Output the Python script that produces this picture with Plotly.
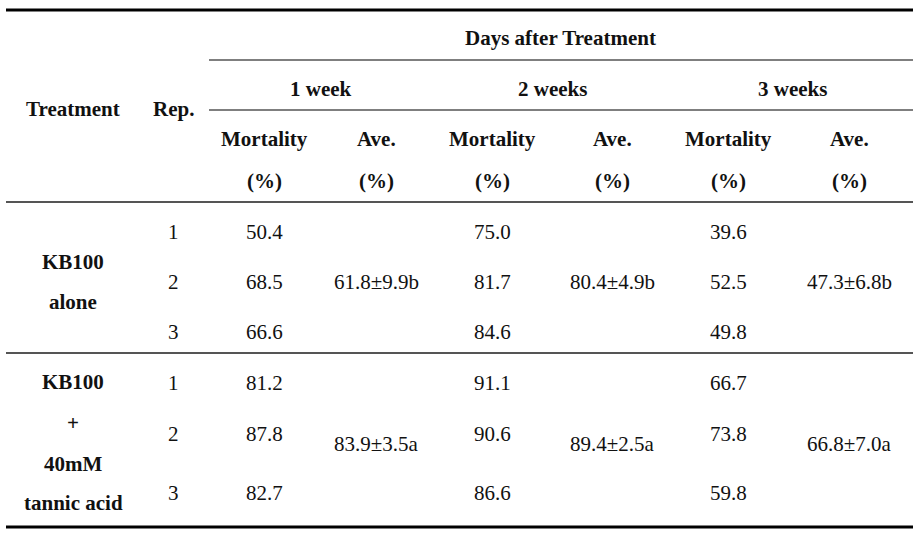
import plotly.graph_objects as go

# ---------------- data ----------------
weeks = ["1 week", "2 weeks", "3 weeks"]
treatments = ["KB100<br>alone", "KB100<br>+<br>40mM<br>tannic acid"]
reps = ["1", "2", "3"]
mort_kb100 = {"1 week": [50.4, 68.5, 66.6], "2 weeks": [75.0, 81.7, 84.6], "3 weeks": [39.6, 52.5, 49.8]}
mort_tannic = {"1 week": [81.2, 87.8, 82.7], "2 weeks": [91.1, 90.6, 86.6], "3 weeks": [66.7, 73.8, 59.8]}
ave_kb100 = ["61.8±9.9b", "80.4±4.9b", "47.3±6.8b"]
ave_tannic = ["83.9±3.5a", "89.4±2.5a", "66.8±7.0a"]

# ---------------- layout geometry (pixel coords) ----------------
W, H = 922, 535
X0, X1 = 6, 913
XSUB = 209
col_treat, col_rep = 73, 173
col_mort = [264, 492, 728]
col_ave = [376, 612, 849]
week_centers = [321, 552, 792]
row_ys = [[232, 282, 332], [383, 434, 493]]
ave_ys = [282, 444]
treat_lines = [[262, 302], [382, 423, 464, 503]]

FONT = "Liberation Serif, Times New Roman, serif"
TXT = "#111111"
SZ_H = 21
SZ_D = 21

fig = go.Figure()
fig.update_layout(width=W, height=H, margin=dict(l=0, r=0, t=0, b=0),
                  paper_bgcolor="white", plot_bgcolor="white", showlegend=False,
                  xaxis=dict(range=[0, W], visible=False, fixedrange=True),
                  yaxis=dict(range=[H, 0], visible=False, fixedrange=True))


def line(x0, x1, y, w, c):
    fig.add_shape(type="line", x0=x0, x1=x1, y0=y, y1=y, xref="x", yref="y",
                  line=dict(color=c, width=w))


def txt(x, y, s, bold=False, size=SZ_D):
    if bold:
        s = "<b>" + s + "</b>"
    fig.add_annotation(x=x, y=y, text=s, showarrow=False, xref="x", yref="y",
                       xanchor="center", yanchor="middle",
                       font=dict(family=FONT, size=size, color=TXT))


# rules
line(X0, X1, 10, 3, "#000000")
line(XSUB, X1, 60, 1.5, "#555555")
line(XSUB, X1, 110, 1.5, "#555555")
line(X0, X1, 202, 2, "#555555")
line(X0, X1, 353, 2, "#555555")
line(X0, X1, 527, 3, "#000000")

# headers
txt(560, 38, "Days after Treatment", bold=True, size=SZ_H)
for wx, wk in zip(week_centers, weeks):
    txt(wx, 89, wk, bold=True, size=SZ_H)
txt(col_treat, 109, "Treatment", bold=True, size=SZ_H)
txt(col_rep, 109, "Rep.", bold=True, size=SZ_H)
for mx, ax in zip(col_mort, col_ave):
    txt(mx, 139, "Mortality", bold=True, size=SZ_H)
    txt(mx, 181, "(%)", bold=True, size=SZ_H)
    txt(ax, 139, "Ave.", bold=True, size=SZ_H)
    txt(ax, 181, "(%)", bold=True, size=SZ_H)

# body
groups = [(mort_kb100, ave_kb100), (mort_tannic, ave_tannic)]
for gi, (morts, aves) in enumerate(groups):
    for ln, ty in zip(treatments[gi].split("<br>"), treat_lines[gi]):
        txt(col_treat, ty, ln, bold=True, size=SZ_H)
    for ri, rep in enumerate(reps):
        y = row_ys[gi][ri]
        txt(col_rep, y, rep)
        for wi, wk in enumerate(weeks):
            txt(col_mort[wi], y, f"{morts[wk][ri]:.1f}")
    for wi in range(3):
        txt(col_ave[wi], ave_ys[gi], aves[wi])

fig.write_html("out.html", config={"displayModeBar": False},
               post_script="document.body.style.margin='0';document.body.style.padding='0';")
